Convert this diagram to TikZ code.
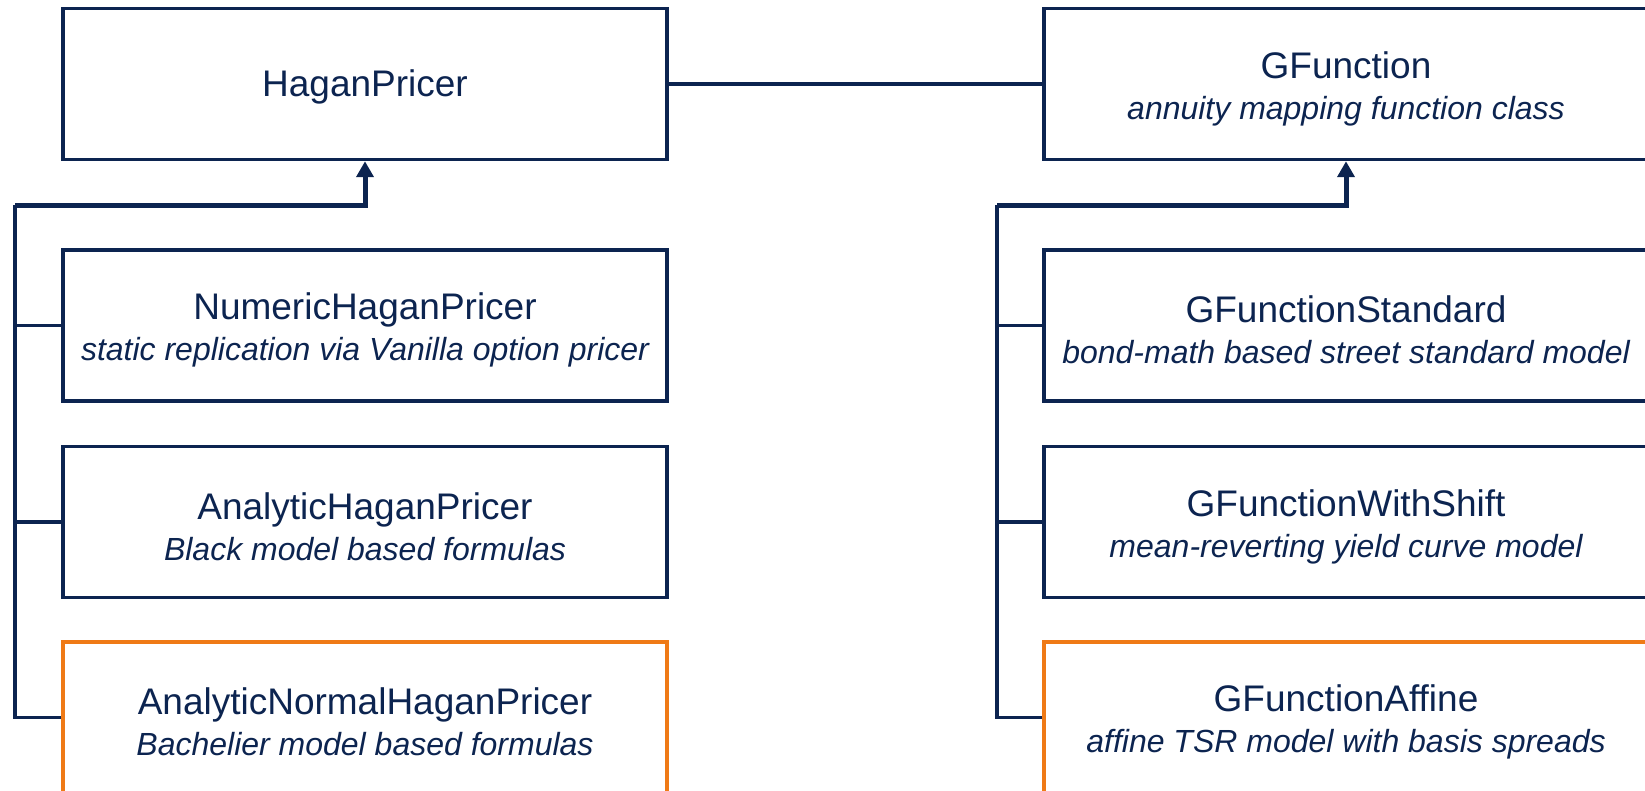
\documentclass[tikz,border=0pt]{standalone}
\usepackage{fontspec}
\setmainfont{Liberation Sans}
\usetikzlibrary{arrows.meta}
\definecolor{navy}{HTML}{0C2450}
\definecolor{orng}{HTML}{EF7A16}
\begin{document}
\begin{tikzpicture}[x=1pt,y=-1pt,
  box/.style={draw=navy, line width=3.5pt, minimum width=604pt, minimum height=151pt,
    inner sep=0pt},
  newbox/.style={box, draw=orng},
  txt/.style={text=navy, align=center, inner sep=0pt, font=\fontsize{37}{41}\selectfont},
  branch/.style={draw=navy, line width=3.5pt},
  vbus/.style={draw=navy, line width=3.5pt, line join=miter},
  hbus/.style={draw=navy, line width=5pt, line join=miter, -{Triangle[length=16pt,width=17pt]}},
  link/.style={draw=navy, line width=3.5pt}
]
\useasboundingbox (0,0) rectangle (1645,791);
\clip (0,0) rectangle (1645,791);
\newcommand{\subt}[1]{{\fontsize{32}{41}\selectfont\itshape #1}}
% left column
\node[box] (hp) at (365,84) {};
\node[box] (nhp) at (365,325.5) {};
\node[box] (ahp) at (365,522) {};
\node[newbox] (anhp) at (365,717.5) {};
% right column
\node[box] (gf) at (1346,84) {};
\node[box] (gfs) at (1346,325.5) {};
\node[box] (gfw) at (1346,522) {};
\node[newbox] (gfa) at (1346,717.5) {};
% texts
\node[txt] (thp) at ([yshift=-3pt]hp.center) {HaganPricer};
\node[txt] (tnhp) at ([yshift=-4.5pt]nhp.center) {NumericHaganPricer\\\subt{static replication via Vanilla option pricer}};
\node[txt] (tahp) at ([yshift=-4.5pt]ahp.center) {AnalyticHaganPricer\\\subt{Black model based formulas}};
\node[txt] (tanhp) at ([yshift=-4.5pt]anhp.center) {AnalyticNormalHaganPricer\\\subt{Bachelier model based formulas}};
\node[txt] (tgf) at ([yshift=-4.5pt]gf.center) {GFunction\\\subt{annuity mapping function class}};
\node[txt] (tgfs) at ([yshift=-4.5pt]gfs.center) {GFunctionStandard\\\subt{bond-math based street standard model}};
\node[txt] (tgfw) at ([yshift=-4.5pt]gfw.center) {GFunctionWithShift\\\subt{mean-reverting yield curve model}};
\node[txt] (tgfa) at ([yshift=-4.5pt]gfa.center) {GFunctionAffine\\\subt{affine TSR model with basis spreads}};
% bus corners
\coordinate (lb) at (15,205.5);
\coordinate (rb) at (997,205.5);
% connector between top boxes
\draw[link] (hp.east) -- (gf.west);
% left bus
\draw[vbus] (anhp.west) -| (lb);
\draw[branch] (nhp.west) -- (nhp.west -| lb);
\draw[branch] (ahp.west) -- (ahp.west -| lb);
\draw[hbus] (lb) -| (hp.south);
% right bus
\draw[vbus] (gfa.west) -| (rb);
\draw[branch] (gfs.west) -- (gfs.west -| rb);
\draw[branch] (gfw.west) -- (gfw.west -| rb);
\draw[hbus] (rb) -| (gf.south);
\end{tikzpicture}
\end{document}
